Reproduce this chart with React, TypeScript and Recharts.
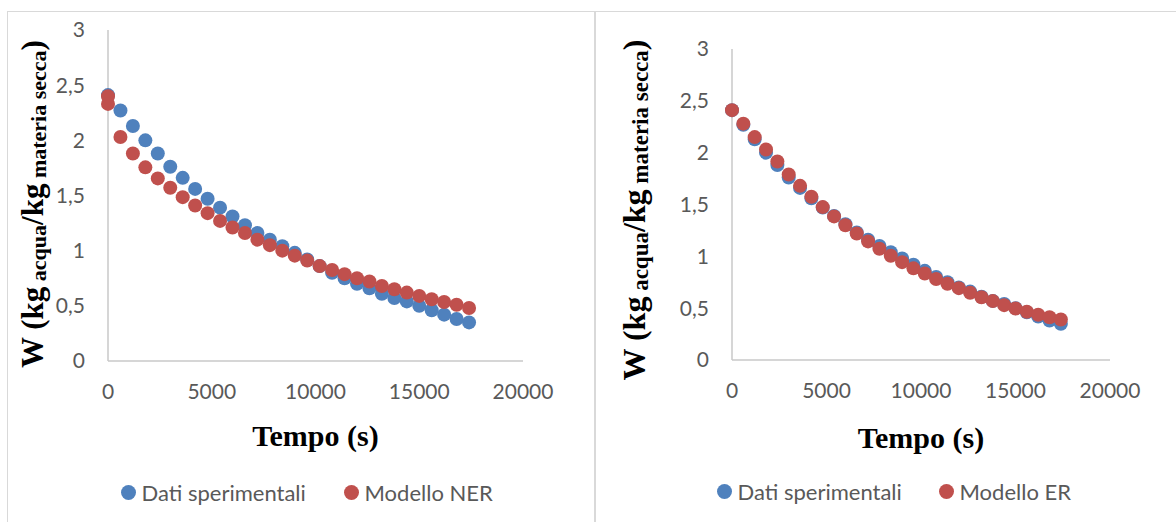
import { ScatterChart, Scatter, XAxis, YAxis } from 'recharts';

// tempo (s), un punto ogni 600 s
const TEMPO = [
  0, 600, 1200, 1800, 2400, 3000, 3600, 4200, 4800, 5400, 6000, 6600, 7200, 7800, 8400,
  9000, 9600, 10200, 10800, 11400, 12000, 12600, 13200, 13800, 14400, 15000, 15600, 16200, 16800, 17400,
];

const DATI_SPERIMENTALI = [
  2.41, 2.27, 2.13, 2.0, 1.88, 1.76, 1.66, 1.56, 1.47, 1.39, 1.31, 1.23, 1.16, 1.1, 1.04,
  0.98, 0.92, 0.86, 0.8, 0.75, 0.7, 0.66, 0.61, 0.57, 0.54, 0.5, 0.46, 0.42, 0.38, 0.35,
];

// il modello NER ha due valori a t = 0
const TEMPO_NER = [0, ...TEMPO];
const MODELLO_NER = [
  2.4, 2.33, 2.03, 1.88, 1.755, 1.655, 1.57, 1.485, 1.41, 1.34, 1.27, 1.21, 1.16, 1.1, 1.05, 1.0,
  0.955, 0.91, 0.86, 0.825, 0.787, 0.75, 0.72, 0.68, 0.65, 0.62, 0.59, 0.56, 0.535, 0.51, 0.48,
];

const MODELLO_ER = [
  2.41, 2.28, 2.15, 2.03, 1.915, 1.79, 1.68, 1.575, 1.475, 1.385, 1.3, 1.22, 1.144, 1.073, 1.006,
  0.944, 0.884, 0.835, 0.782, 0.735, 0.693, 0.649, 0.606, 0.568, 0.529, 0.497, 0.465, 0.436, 0.413, 0.391,
];

const X_TICKS = [0, 5000, 10000, 15000, 20000];
const Y_TICKS = [0, 0.5, 1, 1.5, 2, 2.5, 3];

const BLUE = '#4F81BD';
const RED = '#C0504D';
const AXIS = '#c9c9c9';
const TEXT = '#595959';
const SANS = 'Lato, "Open Sans", sans-serif';
const SERIF = '"Liberation Serif", "Times New Roman", serif';

const toRows = (xs: number[], ys: number[]) => xs.map((t, i) => ({ t, w: ys[i] }));

const dot = (color: string) => (props: any) => {
  const { cx, cy } = props;
  if (cx == null || cy == null) return <g />;
  return <circle cx={cx} cy={cy} r={7} fill={color} />;
};

function YTitle({ bx, cy, main, sub }: { bx: number; cy: number; main: number; sub: number }) {
  return (
    <text
      transform={`translate(${bx}, ${cy}) rotate(-90)`}
      textAnchor="middle"
      fontFamily={SERIF}
      fontWeight="bold"
      fill="#000"
    >
      <tspan fontSize={main}>W (kg</tspan>
      <tspan fontSize={sub} dy={3}> acqua</tspan>
      <tspan fontSize={main} dy={-3}>/kg</tspan>
      <tspan fontSize={sub} dy={3}> materia secca</tspan>
      <tspan fontSize={main} dy={-3}>)</tspan>
    </text>
  );
}

function XTitle({ cx, by }: { cx: number; by: number }) {
  return (
    <text x={cx} y={by} textAnchor="middle" fontFamily={SERIF} fontWeight="bold" fontSize={30} fill="#000">
      Tempo (s)
    </text>
  );
}

interface PanelProps {
  left: number;
  width: number;
  margin: { top: number; right: number; bottom: number; left: number };
  yWidth: number;
  model: Array<{ t: number; w: number }>;
  modelName: string;
  yTitle: { bx: number; cy: number; main: number; sub: number };
  xTitle: { cx: number; by: number };
  legend: { blue: number; red: number; y: number };
}

function Panel({ left, width, margin, yWidth, model, modelName, yTitle, xTitle, legend }: PanelProps) {
  const dati = toRows(TEMPO, DATI_SPERIMENTALI);
  const tick = { fill: TEXT, fontSize: 21, fontFamily: SANS };
  return (
    <div style={{ position: 'absolute', left, top: 0, width, height: 522 }}>
      <ScatterChart width={width} height={522} margin={margin}>
        <XAxis
          type="number"
          dataKey="t"
          domain={[0, 20000]}
          ticks={X_TICKS}
          height={40}
          tickLine={false}
          tickSize={0}
          tickMargin={23}
          axisLine={{ stroke: AXIS, strokeWidth: 1.5 }}
          tick={tick}
          label={<XTitle cx={xTitle.cx} by={xTitle.by} />}
        />
        <YAxis
          type="number"
          dataKey="w"
          domain={[0, 3]}
          ticks={Y_TICKS}
          width={yWidth}
          tickLine={false}
          tickSize={0}
          tickMargin={23}
          axisLine={{ stroke: AXIS, strokeWidth: 1.5 }}
          tick={tick}
          tickFormatter={(v: number) => String(v).replace('.', ',')}
          label={<YTitle {...yTitle} />}
        />
        <Scatter name="Dati sperimentali" data={dati} fill={BLUE} shape={dot(BLUE)} isAnimationActive={false} />
        <Scatter name={modelName} data={model} fill={RED} shape={dot(RED)} isAnimationActive={false} />
      </ScatterChart>

      {/* legenda */}
      {[
        { x: legend.blue, color: BLUE, label: 'Dati sperimentali' },
        { x: legend.red, color: RED, label: modelName },
      ].map((it) => (
        <div
          key={it.label}
          style={{
            position: 'absolute',
            left: it.x - 7.5,
            top: legend.y - 12,
            height: 24,
            display: 'flex',
            alignItems: 'center',
            gap: 6,
            fontFamily: SANS,
            fontSize: 22,
            color: TEXT,
            whiteSpace: 'nowrap',
          }}
        >
          <span style={{ width: 15, height: 15, borderRadius: '50%', background: it.color, display: 'inline-block' }} />
          <span>{it.label}</span>
        </div>
      ))}
    </div>
  );
}

export default function App() {
  return (
    <div style={{ position: 'relative', width: 1176, height: 522, background: '#fff', overflow: 'hidden' }}>
      <style>{'body{margin:0}'}</style>
      <div
        style={{
          position: 'absolute',
          left: 7,
          top: 11,
          width: 586,
          height: 530,
          borderLeft: '1.5px solid #d9d9d9',
          borderTop: '1.5px solid #d9d9d9',
          borderRight: '2px solid #d9d9d9',
        }}
      />
      <div style={{ position: 'absolute', left: 596, top: 11, width: 580, borderTop: '1.5px solid #d9d9d9' }} />

      <Panel
        left={0}
        width={596}
        margin={{ top: 30, right: 73, bottom: 121, left: 0 }}
        yWidth={108}
        model={toRows(TEMPO_NER, MODELLO_NER)}
        modelName="Modello NER"
        yTitle={{ bx: 43, cy: 204, main: 31, sub: 22 }}
        xTitle={{ cx: 315.5, by: 446 }}
        legend={{ blue: 128, red: 351, y: 492 }}
      />
      <Panel
        left={596}
        width={580}
        margin={{ top: 49, right: 66, bottom: 122, left: 0 }}
        yWidth={136}
        model={toRows(TEMPO, MODELLO_ER)}
        modelName="Modello ER"
        yTitle={{ bx: 49, cy: 210, main: 32, sub: 23 }}
        xTitle={{ cx: 325, by: 448 }}
        legend={{ blue: 128, red: 350, y: 491 }}
      />
    </div>
  );
}
